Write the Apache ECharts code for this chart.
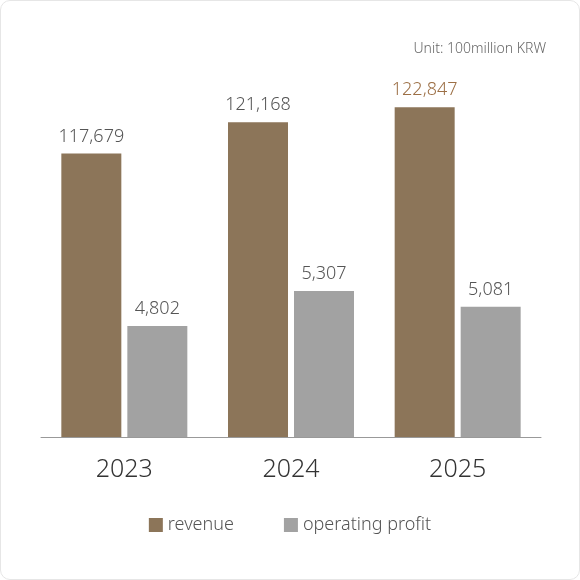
<!DOCTYPE html><html><head><meta charset="utf-8">
<script src="https://cdn.jsdelivr.net/npm/echarts@6/dist/echarts.min.js"></script>
<style>html,body{margin:0;padding:0;background:#fff}#c{width:578px;height:578px;border:1px solid #e6e6e6;border-radius:10px;box-sizing:content-box}</style>
</head><body><div id="c"></div><script>
const years=['2023','2024','2025'];
const revenue=[117679,121168,122847];
const profit=[4802,5307,5081];
const ch=echarts.init(document.getElementById('c'));
const fmt=v=>v.toLocaleString('en-US');
const FF='Noto Sans';
ch.setOption({
 animation:false,
 title:{text:'Unit: 100million KRW',right:28,top:36,textStyle:{fontSize:14,fontWeight:300,color:'#666',fontFamily:FF}},
 legend:{bottom:40,left:'center',itemWidth:14,itemHeight:14,itemGap:50,icon:'rect',textStyle:{fontSize:18,fontWeight:300,color:'#555',fontFamily:FF}},
 grid:{left:40,right:38,top:60,bottom:142},
 xAxis:{type:'category',data:years,axisLine:{lineStyle:{color:'#999'}},axisTick:{show:false},axisLabel:{fontSize:25,fontWeight:300,color:'#333',margin:20,fontFamily:FF}},
 yAxis:[{type:'value',min:86000,max:128000,show:false},{type:'value',min:3200,max:8626,show:false}],
 series:[
  {name:'revenue',type:'bar',yAxisIndex:0,data:revenue.map((v,i)=>i===2?{value:v,label:{color:'#9c6f45'}}:v),barWidth:60,barGap:'10%',itemStyle:{color:'#8c7559'},
   label:{show:true,position:'top',distance:8,fontSize:18,fontWeight:300,fontFamily:FF,formatter:p=>fmt(p.value),color:'#555'}},
  {name:'operating profit',type:'bar',yAxisIndex:1,data:profit,barWidth:60,itemStyle:{color:'#a2a2a2'},
   label:{show:true,position:'top',distance:8,fontSize:18,fontWeight:300,fontFamily:FF,color:'#555',formatter:p=>fmt(p.value)}}
 ]
});
const gs=[];
years.forEach((y,i)=>{
 const cx=ch.convertToPixel({xAxisIndex:0},y);
 const x0=cx-65,x1=cx-1,m=(x0+x1)/2,yy=373;
 gs.push({type:'bezierCurve',shape:{x1:x0,y1:yy+2,cpx1:x0+12,cpy1:yy-12,cpx2:x0+22,cpy2:yy-8,x2:m,y2:yy},style:{stroke:'#fff',lineWidth:7,fill:null}});
 gs.push({type:'bezierCurve',shape:{x1:m,y1:yy,cpx1:x1-22,cpy1:yy+8,cpx2:x1-12,cpy2:yy+12,x2:x1,y2:yy-2},style:{stroke:'#fff',lineWidth:7,fill:null}});
});
ch.setOption({graphic:gs});
</script></body></html>
